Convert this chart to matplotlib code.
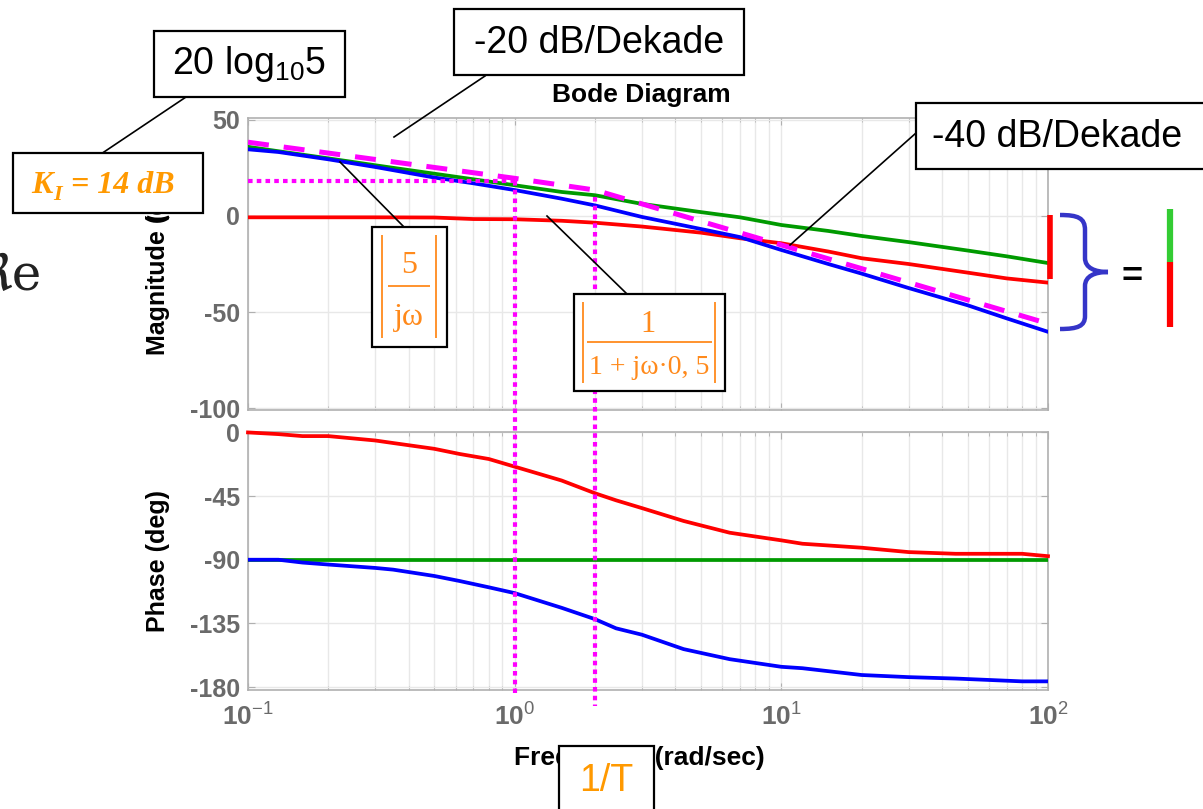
import numpy as np
import matplotlib
matplotlib.use("Agg")
import matplotlib.pyplot as plt
from matplotlib.patches import Rectangle, PathPatch, Arc
from matplotlib.path import Path
from matplotlib.lines import Line2D

plt.rcParams['font.family'] = ['Liberation Sans', 'DejaVu Sans']
plt.rcParams['mathtext.fontset'] = 'custom'
plt.rcParams['mathtext.rm'] = 'Liberation Sans'
plt.rcParams['mathtext.it'] = 'Liberation Sans:italic'
plt.rcParams['mathtext.bf'] = 'Liberation Sans:bold'

# ---------------- data ----------------
w_mag = [0.1, 0.13, 0.2, 0.3, 0.5, 0.7, 1.0, 1.5, 2.0, 3.0, 5.0, 7.0, 10, 15, 20, 30, 50, 70, 100]
mag_integrator = [36, 33.7, 30, 26.4, 22, 19.1, 16, 12.5, 10.8, 6.3, 2, -0.7, -4.7, -7.8, -10.4, -13.6, -18, -21, -24.5]
mag_pt1 = [-0.7, -0.7, -0.7, -0.7, -0.8, -1.6, -1.7, -2.5, -3.5, -5.5, -8.7, -11.6, -14.2, -18.5, -22, -25, -29.5, -32.5, -34.7]
mag_total = [34.7, 33.3, 29.5, 25.5, 20, 17, 13.5, 9, 5.5, -0.5, -6.8, -11, -17.7, -25, -30, -37.5, -46.5, -53.3, -60.3]

w_asym = [0.1, 1.0, 2.0, 100]
mag_asym = [38.4, 19.6, 13.5, -56]

w_ph = [0.1, 0.13, 0.16, 0.2, 0.3, 0.35, 0.5, 0.62, 0.8, 1.0, 1.5, 2.0, 2.4, 3.0, 4.3, 6.4, 10, 12, 20, 30, 45, 80, 100]
ph_pt1 = [0, -1.2, -2.6, -2.6, -5.7, -7.5, -11.6, -15.2, -18.8, -24.2, -34, -43, -48, -53.5, -62.6, -70.9, -76.3, -78.7, -81.5, -84.6, -85.8, -85.8, -87.5]
ph_total = [-90, -90, -92, -93.4, -95.8, -97, -101.5, -105, -109.5, -113.6, -124, -132, -138.5, -143, -153.2, -160.3, -165.7, -166.7, -171.5, -173, -174, -176, -176]
ph_integrator = [-90] * len(w_ph)

KI_dB = 18          # level of dotted horizontal marker
corner_w = [1.0, 2.0]
corner_top = [18, 10]
corner_bottom = [-184.5, -193.5]

mag_ticks = [50, 0, -50, -100]
ph_ticks = [0, -45, -90, -135, -180]
x_ticks = [0.1, 1, 10, 100]
x_ticklabels = [r'$\mathbf{10}^{-1}$', r'$\mathbf{10}^{0}$', r'$\mathbf{10}^{1}$', r'$\mathbf{10}^{2}$']

# ---------------- figure ----------------
W, H = 1203, 809
fig = plt.figure(figsize=(W / 100, H / 100), dpi=100)


def P(x, y):
    return (x / W, 1 - y / H)


def ax_rect(l, t, r, b):
    return [l / W, 1 - b / H, (r - l) / W, (b - t) / H]


GREEN = '#009a00'
RED = '#ff0000'
BLUE = '#0000ff'
MAG = '#ff00ff'
ORANGE = '#ff8a1c'
TICKC = '#6a6a6a'
SPC = '#b0b0b0'
GRIDC = '#e8e8e8'

ax1 = fig.add_axes(ax_rect(248, 118, 1048, 410))
ax2 = fig.add_axes(ax_rect(248, 432, 1048, 690))

for ax in (ax1, ax2):
    ax.set_xscale('log')
    ax.set_xlim(0.1, 100)
    ax.grid(True, which='major', color=GRIDC, lw=1)
    ax.grid(True, which='minor', axis='x', color=GRIDC, lw=1)
    for s in ax.spines.values():
        s.set_color(SPC)
        s.set_linewidth(1.2)
    ax.tick_params(which='both', direction='in', colors=SPC, labelcolor=TICKC,
                   labelsize=18, top=True, right=True, length=5, pad=6)
    ax.tick_params(which='minor', length=3)
    ax.set_axisbelow(True)

ax1.set_ylim(-101, 51)
ax1.set_yticks(mag_ticks)
ax1.set_yticklabels([str(t) for t in mag_ticks], fontweight='bold')
ax1.tick_params(axis='x', which='both', labelbottom=False)

ax2.set_ylim(-182.1, 0.3)
ax2.set_yticks(ph_ticks)
ax2.set_yticklabels([str(t) for t in ph_ticks], fontweight='bold')
ax2.set_xticks(x_ticks)
ax2.set_xticklabels(x_ticklabels)
ax2.tick_params(axis='x', pad=10, labelsize=19)

lw = 2.7
ax1.plot(w_mag, mag_integrator, color=GREEN, lw=lw, zorder=3)
ax1.plot(w_mag, mag_pt1, color=RED, lw=lw, zorder=3)
ax1.plot(w_mag, mag_total, color=BLUE, lw=lw, zorder=3)
ax1.plot(w_asym, mag_asym, color=MAG, lw=3.6, ls=(0, (4.2, 3.0)), zorder=4)
ax1.plot([0.1, corner_w[0]], [KI_dB, KI_dB], color=MAG, lw=3, ls=(0, (1.1, 1.0)), zorder=4)

ax2.plot(w_ph, ph_pt1, color=RED, lw=lw, zorder=3, clip_on=False)
ax2.plot(w_ph, ph_integrator, color=GREEN, lw=lw, zorder=3)
ax2.plot(w_ph, ph_total, color=BLUE, lw=lw, zorder=3)

ax1.set_ylabel('Magnitude (dB)', fontsize=18, fontweight='bold')
ax2.set_ylabel('Phase (deg)', fontsize=18, fontweight='bold')
ax1.yaxis.set_label_coords(-0.097, 0.5)
ax2.yaxis.set_label_coords(-0.097, 0.5)

fig.text(*P(641, 95), 'Bode Diagram', fontsize=19, fontweight='bold', ha='center', va='center')
fig.text(*P(639, 758), 'Frequency (rad/sec)', fontsize=19, fontweight='bold', ha='center', va='center')

# dotted corner-frequency markers spanning both axes (data -> figure coordinates)
to_fig = fig.transFigure.inverted()
for wc, top, yb in zip(corner_w, corner_top, corner_bottom):
    pa = to_fig.transform(ax1.transData.transform((wc, top)))
    pb = to_fig.transform(ax2.transData.transform((wc, yb)))
    fig.add_artist(Line2D([pa[0], pb[0]], [pa[1], pb[1]], transform=fig.transFigure,
                          color=MAG, lw=3, ls=(0, (1.1, 1.0)), zorder=5))


# ---------------- annotation helpers ----------------
def fline(pts, **kw):
    xs = [p[0] / W for p in pts]
    ys = [1 - p[1] / H for p in pts]
    fig.add_artist(Line2D(xs, ys, transform=fig.transFigure, **kw))


def fbox(l, t, r, b):
    fig.add_artist(Rectangle(P(l, b), (r - l) / W, (b - t) / H, transform=fig.transFigure,
                             facecolor='white', edgecolor='black', lw=1.6, zorder=10))


# 20 log10 5
fline([(186, 97), (95, 158)], color='black', lw=1.2, zorder=9)
fbox(154, 31, 345, 97)
fig.text(*P(249, 64), r'20 log$_{\mathrm{10}}$5', fontsize=27, ha='center', va='center', zorder=11)

# K_I = 14 dB
fbox(13, 153, 203, 213)
kw = dict(family='Liberation Serif', style='italic', weight='bold', color='#ff9900', zorder=11)
fig.text(*P(31, 193), 'K', fontsize=23, ha='left', va='baseline', **kw)
fig.text(*P(53, 200), 'I', fontsize=16, ha='left', va='baseline', **kw)
fig.text(*P(71, 193), '= 14 dB', fontsize=23, ha='left', va='baseline', **kw)
fig.add_artist(Arc(P(158, 214), 26 / W, 10 / H, theta1=200, theta2=340,
                   transform=fig.transFigure, color='black', lw=2, zorder=9))

# -20 dB/Dekade
fline([(485, 76), (394, 137)], color='black', lw=1.2, zorder=9)
fbox(454, 9, 744, 75)
fig.text(*P(599, 43), '-20 dB/Dekade', fontsize=27, ha='center', va='center', zorder=11)

# -40 dB/Dekade
fline([(916, 133), (790, 245)], color='black', lw=1.2, zorder=9)
fbox(916, 103, 1215, 169)
fig.text(*P(1057, 137), '-40 dB/Dekade', fontsize=27, ha='center', va='center', zorder=11)

fkw = dict(family='Liberation Serif', color=ORANGE, zorder=11, ha='center', va='baseline')
okw = dict(color=ORANGE, lw=1.3, zorder=11, solid_capstyle='butt')

# |5/jw|
fline([(403, 226), (340, 162)], color='black', lw=1.2, zorder=9)
fbox(372, 227, 447, 347)
fline([(382, 235), (382, 338)], **okw)
fline([(436, 235), (436, 338)], **okw)
fline([(388, 286), (430, 286)], **okw)
fig.text(*P(409, 273), '5', fontsize=23, **fkw)
fig.text(*P(409, 325), 'jω', fontsize=23, **fkw)

# |1/(1+jw*0,5)|
fline([(627, 294), (547, 216)], color='black', lw=1.2, zorder=9)
fbox(574, 294, 725, 391)
fline([(583, 302), (583, 383)], **okw)
fline([(715, 302), (715, 383)], **okw)
fline([(587, 342), (712, 342)], **okw)
fig.text(*P(648, 332), '1', fontsize=22, **fkw)
fig.text(*P(649, 374), '1 + jω·0, 5', fontsize=20, **fkw)

# 1/T
fbox(559, 746, 654, 830)
fig.text(*P(606, 781), '1/T', fontsize=27, color='#ff9900', ha='center', va='center', zorder=11)

# cut-off "Re" at the left edge
fig.text(*P(42, 290), 'ℜe', fontsize=36, family=['DejaVu Serif', 'DejaVu Sans'],
         ha='right', va='baseline', color='#222222')

# right-hand sum illustration
fline([(1050, 215), (1050, 279)], color=RED, lw=4, solid_capstyle='butt', zorder=9)
verts = [P(1060, 215), P(1078, 215), P(1085, 218), P(1085, 230),
         P(1085, 258),
         P(1085, 268), P(1095, 272), P(1108, 272),
         P(1095, 272), P(1085, 276), P(1085, 286),
         P(1085, 316),
         P(1085, 326), P(1078, 329), P(1060, 329)]
codes = [Path.MOVETO, Path.CURVE4, Path.CURVE4, Path.CURVE4,
         Path.LINETO,
         Path.CURVE4, Path.CURVE4, Path.CURVE4,
         Path.CURVE4, Path.CURVE4, Path.CURVE4,
         Path.LINETO,
         Path.CURVE4, Path.CURVE4, Path.CURVE4]
fig.add_artist(PathPatch(Path(verts, codes), transform=fig.transFigure, facecolor='none',
                         edgecolor='#3535c8', lw=3.2, zorder=9))
fig.text(*P(1132, 277), '=', fontsize=26, fontweight='bold', ha='center', va='center')
fline([(1170, 209), (1170, 262)], color='#33cc33', lw=4.5, solid_capstyle='butt', zorder=9)
fline([(1170, 262), (1170, 327)], color=RED, lw=4.5, solid_capstyle='butt', zorder=9)

fig.savefig('out.png', dpi=100)
